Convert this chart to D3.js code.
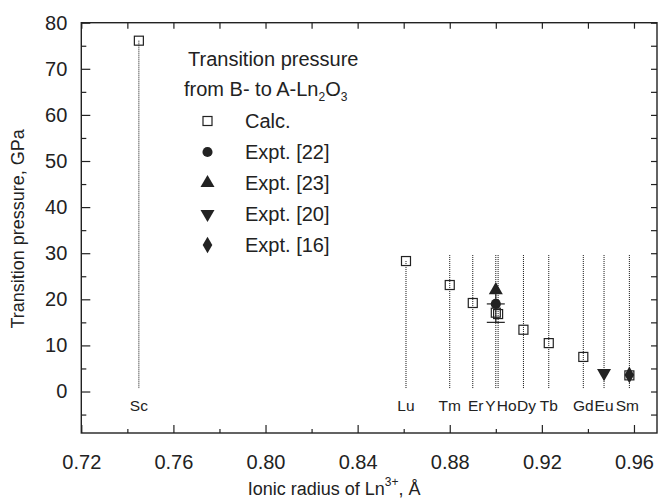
<!DOCTYPE html>
<html>
<head>
<meta charset="utf-8">
<script src="https://cdn.jsdelivr.net/npm/d3@7/dist/d3.min.js"></script>
<style>
  html, body { margin: 0; padding: 0; background: #fff; }
  svg text { font-family: "Liberation Sans", Arial, Helvetica, sans-serif; fill: #222; }
</style>
</head>
<body>
<svg id="chart" width="659" height="499"></svg>
<script>
// Lanthanide (and Sc, Y) cations with their ionic radii, Å
const elements = ["Sc", "Lu", "Tm", "Er", "Y", "Ho", "Dy", "Tb", "Gd", "Eu", "Sm"];
const radii = [0.745, 0.861, 0.880, 0.890, 0.900, 0.901, 0.912, 0.923, 0.938, 0.947, 0.958];
// Calculated B -> A transition pressure, GPa (no value for Eu)
const calcPressure = [76.1, 28.3, 23.1, 19.2, 17.1, 16.8, 13.4, 10.5, 7.5, null, 3.5];

// Experimental points
const expt22Radius = [0.900];
const expt22Pressure = [19.0];
const expt22ErrLow = [15.0];
const expt22ErrHigh = [22.0];
const expt23Radius = [0.900];
const expt23Pressure = [22.0];
const expt20Radius = [0.947];
const expt20Pressure = [4.0];
const expt16Radius = [0.958];
const expt16Pressure = [3.6];

// Axis tick values
const xMajorTicks = [0.72, 0.76, 0.80, 0.84, 0.88, 0.92, 0.96];
const xMinorTicks = [0.74, 0.78, 0.82, 0.86, 0.90, 0.94];
const yMajorTicks = [0, 10, 20, 30, 40, 50, 60, 70, 80];
const yMinorTicks = [-5, 5, 15, 25, 35, 45, 55, 65, 75];

const legendLabels = ["Calc.", "Expt. [22]", "Expt. [23]", "Expt. [20]", "Expt. [16]"];

const svg = d3.select("#chart");
const m = { left: 81.3, top: 22.7, right: 657, bottom: 433 };

const x = d3.scaleLinear().domain([0.72, 0.97]).range([m.left, m.right]);
const y = d3.scaleLinear().domain([-9, 80]).range([m.bottom, m.top]);

const ink = "#222";
const fs = 20;

// Frame
svg.append("rect")
  .attr("x", m.left).attr("y", m.top)
  .attr("width", m.right - m.left).attr("height", m.bottom - m.top)
  .attr("fill", "none").attr("stroke", ink).attr("stroke-width", 1.4);

// Bottom axis (ticks inward)
const gx = svg.append("g").attr("transform", `translate(0,${m.bottom})`);
gx.call(d3.axisBottom(x).tickValues(xMajorTicks).tickSize(-8).tickPadding(22)
  .tickFormat(d3.format(".2f")));
gx.append("g").call(d3.axisBottom(x).tickValues(xMinorTicks).tickSize(-4).tickFormat(""));

// Top axis ticks
const gxt = svg.append("g").attr("transform", `translate(0,${m.top})`);
gxt.call(d3.axisTop(x).tickValues(xMajorTicks.concat(xMinorTicks)).tickSize(-6).tickFormat(""));

// Left axis
const gy = svg.append("g").attr("transform", `translate(${m.left},0)`);
gy.call(d3.axisLeft(y).tickValues(yMajorTicks).tickSize(-9).tickPadding(14));
gy.append("g").call(d3.axisLeft(y).tickValues(yMinorTicks).tickSize(-5).tickFormat(""));

// Right axis ticks
const gyr = svg.append("g").attr("transform", `translate(${m.right},0)`);
gyr.call(d3.axisRight(y).tickValues(yMajorTicks.concat(yMinorTicks)).tickSize(-6).tickFormat(""));

svg.selectAll(".domain").remove();
svg.selectAll(".tick line").attr("stroke", ink).attr("stroke-width", 1.2);
svg.selectAll(".tick text").attr("font-size", fs).attr("fill", ink)
  .style("font-family", "'Liberation Sans', Arial, sans-serif");

// Axis titles
const xt = svg.append("text")
  .attr("x", (m.left + m.right) / 2 - 35).attr("y", 495)
  .attr("text-anchor", "middle").attr("font-size", 18);
xt.append("tspan").text("Ionic radius of Ln");
xt.append("tspan").attr("font-size", 12).attr("dy", -9).text("3+");
xt.append("tspan").attr("dy", 9).text(", Å");

svg.append("text")
  .attr("transform", `translate(24,${(m.top + m.bottom) / 2 + 1}) rotate(-90)`)
  .attr("text-anchor", "middle").attr("font-size", 18)
  .text("Transition pressure, GPa");

// Dotted guide lines from each point down to the element label
const guideTop = 29.6;
const guideBottom = 0.6;
const guides = elements.map((e, i) => ({
  r: radii[i],
  top: Math.max(calcPressure[i] == null ? guideTop : calcPressure[i], guideTop)
}));
// Sc and Lu guides start at the calculated point itself
guides[0].top = calcPressure[0];
guides[1].top = calcPressure[1];
svg.append("g").selectAll("line").data(guides).join("line")
  .attr("x1", d => x(d.r)).attr("x2", d => x(d.r))
  .attr("y1", d => y(d.top)).attr("y2", y(guideBottom))
  .attr("stroke", "#111").attr("stroke-width", 1).attr("stroke-dasharray", "1,1");

// Element labels (a few nudged apart where they crowd)
const labelDx = { Er: 3, Y: -5.5, Ho: 8.5, Dy: 3, Sm: -2 };
svg.append("g").selectAll("text").data(elements).join("text")
  .attr("x", (d, i) => x(radii[i]) + (labelDx[d] || 0))
  .attr("y", 411)
  .attr("text-anchor", "middle").attr("font-size", 15.5)
  .text(d => d);

// Marker shapes
const sq = 9;
function square(g, cx, cy) {
  g.append("rect").attr("x", cx - sq / 2).attr("y", cy - sq / 2)
    .attr("width", sq).attr("height", sq)
    .attr("fill", "none").attr("stroke", ink).attr("stroke-width", 1.2);
}
const symCircle = d3.symbol().type(d3.symbolCircle).size(80);
const symUp = d3.symbol().type(d3.symbolTriangle).size(85);
const symDiamond = d3.symbol().type(d3.symbolDiamond).size(80);

// Experiment [22] error bars
const eg = svg.append("g").attr("stroke", ink).attr("stroke-width", 1.2);
expt22Radius.forEach((r, i) => {
  const cx = x(r);
  eg.append("line").attr("x1", cx).attr("x2", cx)
    .attr("y1", y(expt22ErrLow[i])).attr("y2", y(expt22ErrHigh[i]));
  [expt22ErrLow[i], expt22Pressure[i]].forEach(v => {
    eg.append("line").attr("x1", cx - 9).attr("x2", cx + 9)
      .attr("y1", y(v)).attr("y2", y(v));
  });
});

// Calculated points
const cg = svg.append("g");
radii.forEach((r, i) => {
  if (calcPressure[i] != null) square(cg, x(r), y(calcPressure[i]));
});

// Experimental points
const pg = svg.append("g").attr("fill", ink);
expt22Radius.forEach((r, i) => pg.append("path").attr("d", symCircle)
  .attr("transform", `translate(${x(r)},${y(expt22Pressure[i])})`));
expt23Radius.forEach((r, i) => pg.append("path").attr("d", symUp)
  .attr("transform", `translate(${x(r)},${y(expt23Pressure[i])})`));
expt20Radius.forEach((r, i) => pg.append("path").attr("d", symUp)
  .attr("transform", `translate(${x(r)},${y(expt20Pressure[i])}) rotate(180)`));
expt16Radius.forEach((r, i) => pg.append("path").attr("d", symDiamond)
  .attr("transform", `translate(${x(r)},${y(expt16Pressure[i])})`));

// Legend
const lg = svg.append("g");
lg.append("text").attr("x", 188).attr("y", 66).attr("font-size", fs).text("Transition pressure");
const l2 = lg.append("text").attr("x", 184).attr("y", 96).attr("font-size", fs);
l2.append("tspan").text("from B- to A-Ln");
l2.append("tspan").attr("font-size", 12).attr("dy", 5).text("2");
l2.append("tspan").attr("dy", -5).text("O");
l2.append("tspan").attr("font-size", 12).attr("dy", 5).text("3");

const legendY0 = 121, legendStep = 31, symX = 207.5, textX = 245;
legendLabels.forEach((lab, i) => {
  const cy = legendY0 + i * legendStep;
  if (i === 0) square(lg, symX, cy);
  else {
    const shape = [null, symCircle, symUp, symUp, symDiamond][i];
    lg.append("path").attr("d", shape).attr("fill", ink)
      .attr("transform", `translate(${symX},${cy})${i === 3 ? " rotate(180)" : ""}`);
  }
  lg.append("text").attr("x", textX).attr("y", cy + 7).attr("font-size", fs).text(lab);
});
</script>
</body>
</html>
